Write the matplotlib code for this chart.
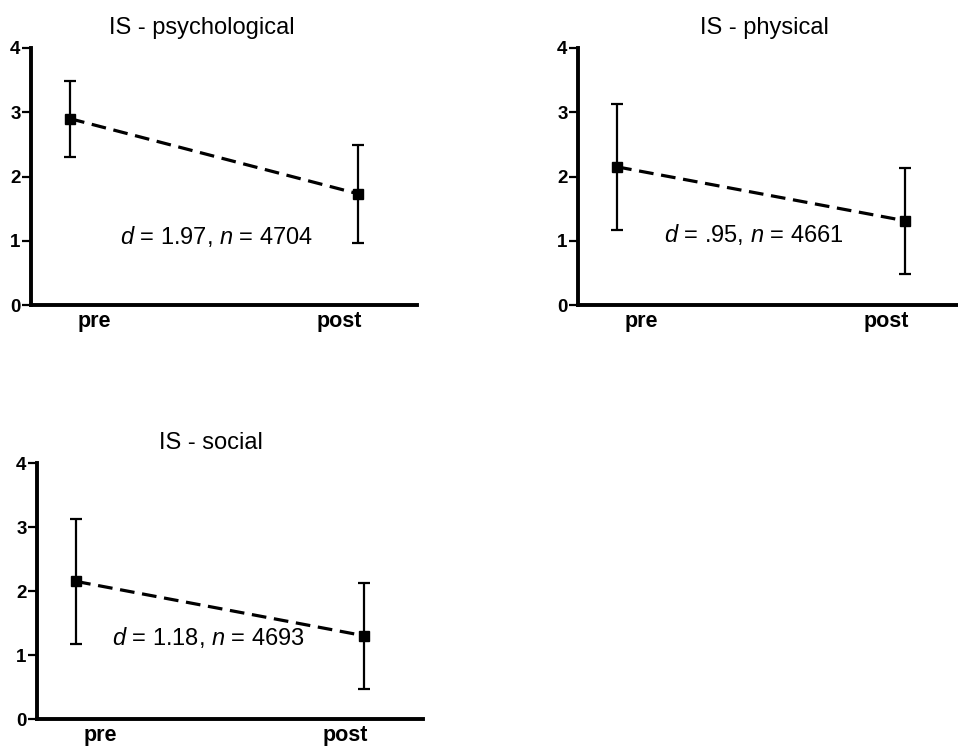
import matplotlib
matplotlib.use("Agg")
import matplotlib.pyplot as plt

plt.rcParams['font.family'] = ['Liberation Sans', 'DejaVu Sans']
plt.rcParams['mathtext.fontset'] = 'custom'
plt.rcParams['mathtext.rm'] = 'Liberation Sans'
plt.rcParams['mathtext.it'] = 'Liberation Sans:italic'

# data
titles = ["IS - psychological", "IS - physical", "IS - social"]
categories = ["pre", "post"]
x_points = [-0.1, 1.08]          # where the points sit relative to the category labels
means = [[2.90, 1.73], [2.15, 1.31], [2.15, 1.30]]
errs = [[0.59, 0.76], [0.98, 0.83], [0.98, 0.83]]
notes = [r"$d$ = 1.97, $n$ = 4704", r"$d$ = .95, $n$ = 4661", r"$d$ = 1.18, $n$ = 4693"]
note_pos = [(0.50, 1.06), (0.46, 1.09), (0.44, 1.27)]
yticks = [0, 1, 2, 3, 4]

# layout (figure fractions)
W, H = 958, 749
boxes = [
    (31 / W, 1 - 305 / H, 386 / W, 257 / H),
    (578 / W, 1 - 305 / H, 386 / W, 257 / H),
    (37 / W, 1 - 719 / H, 386 / W, 256 / H),
]
title_x = [0.443, 0.482, 0.45]

fig = plt.figure(figsize=(W / 100, H / 100), dpi=100)

for i in range(3):
    ax = fig.add_axes(boxes[i])
    ax.plot(x_points, means[i], color="black", lw=2.3, dashes=(4.6, 2.4),
            zorder=2, clip_on=False)
    ax.errorbar(x_points, means[i], yerr=errs[i], fmt="s", color="black",
                ms=7.5, elinewidth=1.6, capsize=4.5, capthick=1.6,
                zorder=3, clip_on=False)
    ax.set_xlim(-0.26, 1.32)
    ax.set_ylim(0, 4)
    ax.set_yticks(yticks)
    ax.set_xticks([0, 1])
    ax.set_xticklabels(categories, fontsize=15.5, fontweight="bold")
    for lab in ax.get_yticklabels():
        lab.set_fontsize(13.5)
        lab.set_fontweight("bold")
    ax.tick_params(axis="y", length=6.5, width=1.6, pad=1)
    ax.tick_params(axis="x", length=0, pad=4)
    for s in ["top", "right"]:
        ax.spines[s].set_visible(False)
    for s in ["left", "bottom"]:
        ax.spines[s].set_linewidth(2.8)
    ax.set_title(titles[i], fontsize=17, x=title_x[i], pad=10)
    ax.text(note_pos[i][0], note_pos[i][1], notes[i], fontsize=17,
            ha="center", va="center")

fig.savefig("out.png", dpi=100)
